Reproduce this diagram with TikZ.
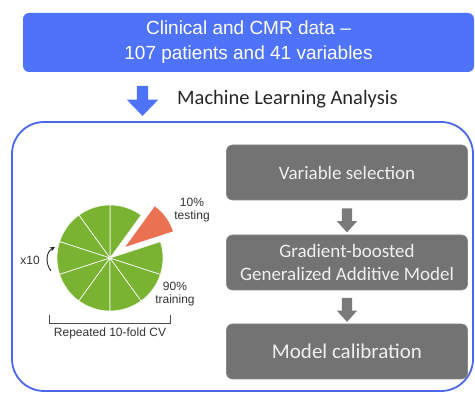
\documentclass[tikz,border=0pt]{standalone}
\usepackage{fontspec}
\usetikzlibrary{shapes.arrows,arrows.meta,calc}
\newfontfamily\arialfam{Liberation Sans}
\newfontfamily\calfam{Carlito}
\definecolor{topblue}{HTML}{4F73F8}
\definecolor{frameblue}{HTML}{4A68E8}
\definecolor{boxgray}{HTML}{737373}
\definecolor{arrowgray}{HTML}{7A7A7A}
\definecolor{piegreen}{HTML}{7AB232}
\definecolor{pieorange}{HTML}{EA7152}
\definecolor{labelgray}{HTML}{333333}
\tikzset{
  stepbox/.style={draw=boxgray!85!white, line width=0.6pt, fill=boxgray, rounded corners=6pt,
    minimum width=241pt, minimum height=55pt, inner sep=0pt, align=center,
    text=white!94!black, font=\calfam\fontsize{19}{23}\selectfont},
  downarrow/.style={shape=single arrow, rotate=-90, fill=arrowgray, draw=none,
    inner xsep=0pt, inner ysep=5pt, single arrow head extend=5pt,
    single arrow tip angle=84, minimum height=24pt},
  pielabel/.style={font=\arialfam\fontsize{12}{13.5}\selectfont, text=labelgray,
    inner sep=0pt, align=center},
  slice/.style={fill=piegreen, draw=white!92!piegreen, line width=0.7pt, line join=round}
}
\begin{document}
\begin{tikzpicture}[x=1pt,y=-1pt]
\useasboundingbox (0,0) rectangle (475,393);

% input data banner
\node[fill=topblue, rounded corners=6pt, minimum width=451pt, minimum height=59pt,
  inner sep=0pt, align=center, text=white, font=\arialfam\fontsize{19}{25}\selectfont]
  (data) at (248.5,42.5) {Clinical and CMR data –\\107 patients and 41 variables};

% blue arrow and heading
\node[shape=single arrow, rotate=-90, fill=topblue, draw=none, inner xsep=0pt,
  inner ysep=5.5pt, single arrow head extend=10pt, single arrow tip angle=88,
  minimum height=30pt] (mlarrow) at (142.5,98) {};
\node[anchor=west, inner sep=0pt, text=black!85, font=\calfam\fontsize{20.5}{24}\selectfont]
  (mltitle) at (177,99.5) {Machine Learning Analysis};

% analysis frame
\draw[frameblue, line width=1.8pt, rounded corners=32pt] (12,122) rectangle (473,391);

% pipeline steps
\node[stepbox] (sel) at (347,172.5) {Variable selection};
\node[stepbox] (gam) at (347,262.5) {Gradient-boosted\\Generalized Additive Model};
\node[stepbox, font=\calfam\fontsize{21}{24}\selectfont] (cal) at (347,351.5) {Model calibration};
\node[downarrow] (a1) at ($(sel.south)!0.5!(gam.north)$) {};
\node[downarrow] (a2) at ($(gam.south)!0.5!(cal.north)$) {};

% cross-validation pie: nine training folds and one held-out fold
\begin{scope}[shift={(110,258)}, y=1pt]
  \foreach \a in {54,90,...,342}
    \path[slice] (0,0) -- (\a:53) arc[start angle=\a, end angle=\a+36, radius=53] -- cycle;
  \path[fill=pieorange] (36:19) -- ++(18:50) arc[start angle=18, end angle=54, radius=50] -- cycle;
\end{scope}

\node[pielabel] (test) at (192,210) {10\%\\testing};
\node[pielabel] (train) at (175,294) {90\%\\training};
\node[pielabel, anchor=east] (rep) at (40,260) {x10};

% repetition arrow
\coordinate (r0) at (51,271);
\coordinate (r1) at (55,247);
\draw[black!85, line width=0.9pt, -{Stealth[length=5pt,width=4.5pt]}]
  (r0) .. controls (45,263) and (46,252) .. (r1);

% bracket under the pie
\coordinate (b0) at (49,315);
\coordinate (b1) at (170,315);
\draw[black!70, line width=0.9pt] (b0) -- ++(0,8) -| (b1);
\node[pielabel] (cv) at (110,333) {Repeated 10-fold CV};
\end{tikzpicture}
\end{document}
